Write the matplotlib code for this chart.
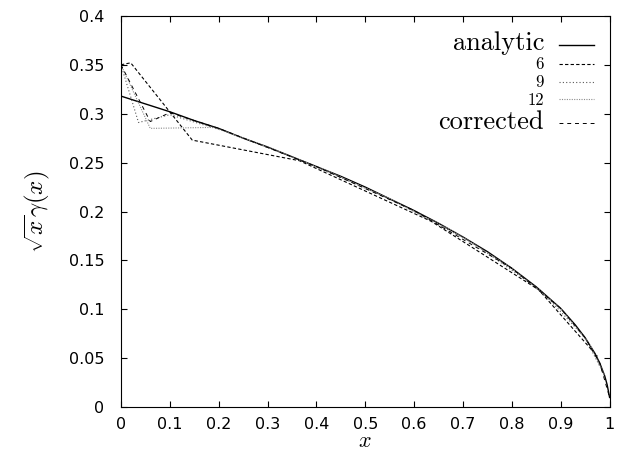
import matplotlib
matplotlib.use("Agg")
import matplotlib.pyplot as plt

plt.rcParams['mathtext.fontset'] = 'cm'
plt.rcParams['font.family'] = ['DejaVu Sans']

# values
analytic_x = [0.0, 0.05, 0.10, 0.15, 0.20, 0.25, 0.30, 0.35, 0.40, 0.45, 0.50, 0.55, 0.60,
              0.65, 0.70, 0.75, 0.80, 0.85, 0.90, 0.93, 0.95, 0.97, 0.98, 0.99, 0.995, 1.0]
analytic_y = [0.318, 0.310, 0.302, 0.293, 0.285, 0.275, 0.266, 0.256, 0.246, 0.236, 0.225, 0.213, 0.201,
              0.188, 0.174, 0.159, 0.142, 0.123, 0.101, 0.084, 0.071, 0.055, 0.045, 0.032, 0.023, 0.010]

n6_x = [0.0, 0.02, 0.146, 0.365, 0.635, 0.855, 0.975]
n6_y = [0.350, 0.352, 0.273, 0.252, 0.190, 0.120, 0.052]

n9_x = [0.0, 0.036, 0.10, 0.22, 0.38, 0.55, 0.72, 0.86, 0.95, 0.99]
n9_y = [0.350, 0.291, 0.299, 0.281, 0.250, 0.213, 0.168, 0.119, 0.071, 0.032]

n12_x = [0.0, 0.06, 0.19, 0.30, 0.42, 0.55, 0.68, 0.80, 0.90, 0.96, 0.99]
n12_y = [0.350, 0.285, 0.286, 0.266, 0.242, 0.213, 0.180, 0.142, 0.101, 0.064, 0.032]

corr_x = [0.0, 0.06, 0.10, 0.20, 0.40, 0.60, 0.80, 0.90, 0.95, 0.98, 1.0]
corr_y = [0.350, 0.292, 0.301, 0.285, 0.246, 0.201, 0.142, 0.101, 0.071, 0.045, 0.010]

labels = ['analytic', '6', '9', '12', 'corrected']

fig = plt.figure(figsize=(6.17, 4.53), dpi=100)
ax = fig.add_axes([0.196, 0.101, 0.792, 0.864])

ax.plot(analytic_x, analytic_y, color='black', lw=1.0, label=labels[0])
ax.plot(n6_x, n6_y, color='black', lw=0.8, ls=(0, (3, 2)), label=labels[1])
ax.plot(n9_x, n9_y, color='0.35', lw=0.8, ls=(0, (1, 2)), label=labels[2])
ax.plot(n12_x, n12_y, color='0.55', lw=0.8, ls=(0, (1, 1.2)), label=labels[3])
ax.plot(corr_x, corr_y, color='black', lw=0.7, ls=(0, (4, 4)), label=labels[4])

ax.set_xlim(0, 1)
ax.set_ylim(0, 0.4)
ax.set_xticks([0, 0.1, 0.2, 0.3, 0.4, 0.5, 0.6, 0.7, 0.8, 0.9, 1])
ax.set_xticklabels(['0', '0.1', '0.2', '0.3', '0.4', '0.5', '0.6', '0.7', '0.8', '0.9', '1'])
ax.set_yticks([0, 0.05, 0.1, 0.15, 0.2, 0.25, 0.3, 0.35, 0.4])
ax.set_yticklabels(['0', '0.05', '0.1', '0.15', '0.2', '0.25', '0.3', '0.35', '0.4'])
ax.tick_params(direction='in', top=True, right=True, length=4, width=0.8, labelsize=11.5)
ax.tick_params(axis='y', pad=12)
ax.tick_params(axis='x', pad=7)
for s in ax.spines.values():
    s.set_linewidth(0.8)

ax.set_xlabel(r'$x$', fontsize=16, labelpad=-1)
ax.set_ylabel(r'$\sqrt{x}\gamma(x)$', fontsize=18, labelpad=12)

leg = ax.legend(loc='upper right', frameon=False, markerfirst=False,
                handlelength=2.3, handletextpad=1.0, labelspacing=0.15,
                borderaxespad=0.6, prop={'family': 'cmr10', 'size': 11})
for i, t in enumerate(leg.get_texts()):
    t.set_fontsize(19 if i in (0, 4) else 12)

fig.savefig('out.png', dpi=100)
